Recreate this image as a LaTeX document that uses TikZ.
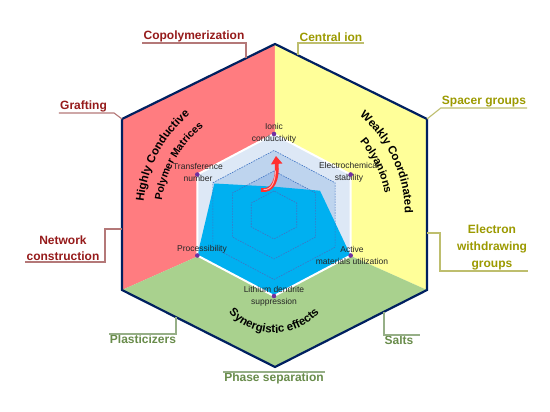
\documentclass[tikz,border=0pt]{standalone}
\usepackage{fontspec}
\setmainfont{Liberation Sans}
\usepackage{tikz}
\usetikzlibrary{arrows.meta,decorations.text}

\definecolor{redreg}{HTML}{FF7C80}
\definecolor{yelreg}{HTML}{FFFF99}
\definecolor{grnreg}{HTML}{A9D18E}
\definecolor{hexline}{HTML}{002060}
\definecolor{radbg}{HTML}{DDE8F6}
\definecolor{lvlout}{HTML}{BED4EE}
\definecolor{lvlin}{HTML}{A3C1E8}
\definecolor{datacol}{HTML}{00B0F0}
\definecolor{dashcol}{HTML}{3F74C4}
\definecolor{dotcol}{HTML}{7030A0}
\definecolor{arrowred}{HTML}{FF3030}
\definecolor{labred}{HTML}{961B1B}
\definecolor{labolv}{HTML}{9C9A00}
\definecolor{labgrn}{HTML}{698C4B}
\definecolor{lnred}{HTML}{B47878}
\definecolor{lnolv}{HTML}{BEBE6E}
\definecolor{lngrn}{HTML}{96AF87}

\newcommand{\arcbig}{\fontsize{11.5}{12}\selectfont\bfseries}
\newcommand{\arcsmall}{\fontsize{10.5}{11}\selectfont\bfseries}
\newcommand{\arcmid}{\fontsize{11}{11}\selectfont\bfseries}

\begin{document}
\begin{tikzpicture}[
    x=1pt,y=1pt,
    outlab/.style={font=\fontsize{12}{17}\selectfont\bfseries,align=center,inner sep=1pt},
    radlab/.style={font=\fontsize{8.5}{12}\selectfont,align=center,inner sep=0pt,text=black!85},
    conn/.style={line width=1.1pt},
    dot/.style={circle,fill=dotcol,inner sep=0pt,minimum size=4.6pt},
    level/.style={draw=dashcol,dash pattern=on 1.6pt off 1.1pt,line width=0.6pt},
    arctext/.style={decorate,decoration={text along path,text align=center,text={#1}}},
    uparrow/.style={draw=arrowred,line width=3.8pt,-{Triangle[width=11pt,length=8pt]}}
  ]
  \useasboundingbox[fill=white] (-274,-197) rectangle (276,215);

  %hexagon
  \coordinate (hT) at (1,171);
  \coordinate (hUR) at (153,96);
  \coordinate (hLR) at (153,-75);
  \coordinate (hB) at (1,-152);
  \coordinate (hLL) at (-152,-75);
  \coordinate (hUL) at (-152,96);
  \coordinate (m) at (1,-7);
  \fill[redreg] (hT) -- (hUL) -- (hLL) -- (m) -- cycle;
  \fill[yelreg] (hT) -- (hUR) -- (hLR) -- (m) -- cycle;
  \fill[grnreg] (hLL) -- (hB) -- (hLR) -- (m) -- cycle;
  \draw[hexline,line width=2.2pt] (hT) -- (hUR) -- (hLR) -- (hB) -- (hLL) -- (hUL) -- cycle;

  %radar
  \begin{scope}[x=1.093pt]
    \fill[radbg] (90:81) \foreach \a in {150,210,...,390} {-- (\a:81)} -- cycle;
    \fill[lvlout] (90:64.5) \foreach \a in {150,210,...,390} {-- (\a:64.5)} -- cycle;
    \fill[lvlin] (90:44) \foreach \a in {150,210,...,390} {-- (\a:44)} -- cycle;
    \fill[datacol] (90:28.3) -- (30:48.6) -- (-30:81) -- (-90:81) -- (210:81) -- (150:63) -- cycle;
    \foreach \r in {64.5,44,24}
      \draw[level] (90:\r) \foreach \a in {150,210,...,390} {-- (\a:\r)} -- cycle;
    \draw[white,line width=2pt] (90:81) \foreach \a in {150,210,...,390} {-- (\a:81)} -- cycle;
  \end{scope}

  %arrow
  \coordinate (arT) at (-13,25);
  \coordinate (arH) at (2,59);
  \draw[uparrow] (arT) .. controls (-1,23) and (4,36) .. (arH);
  \draw[white!60!arrowred,line width=1pt,line cap=round] (-10,25.5) .. controls (-3,25) and (1,32) .. (1.5,44);

  %radar labels
  \node[radlab] (ionic) at (0,82) {Ionic\\conductivity};
  \node[radlab] (elchem) at (75,43) {Electrochemical\\stability};
  \node[radlab] (active) at (78,-40.5) {Active\\materials utilization};
  \node[radlab] (lith) at (0,-81) {Lithium dendrite\\suppression};
  \node[radlab] (proc) at (-72,-34) {Processibility};
  \node[radlab] (trans) at (-76,43) {Transference\\number};

  \begin{scope}[x=1.093pt]
    \foreach \a [count=\i] in {90,30,-30,-90,-150,150}
      \node[dot] (d\i) at (\a:81) {};
  \end{scope}

  %section titles
  \path[arctext={|\arcbig|Highly Conductive}] (202:131) arc[start angle=202,end angle=102,radius=131];
  \path[arctext={|\arcsmall|Polymer Matrices}] (200.5:113) arc[start angle=200.5,end angle=100.5,radius=113];
  \path[arctext={|\arcbig|Weakly Coordinated}] (75:131) arc[start angle=75,end angle=-25,radius=131];
  \path[arctext={|\arcmid|Polyanions}] (75.7:113) arc[start angle=75.7,end angle=-24.3,radius=113];
  \path[shift={(0,-57)},arctext={|\arcbig|Synergistic effects}] (210:61) arc[start angle=210,end angle=330,radius=61];

  %outer labels
  \coordinate (ecopo) at (-28,156.8);
  \coordinate (ecent) at (24,159.7);
  \coordinate (eelec) at (153,-18);
  \coordinate (esalt) at (110,-96.8);
  \coordinate (eplas) at (-98,-102.2);
  \coordinate (enet) at (-152,-14);

  \node[outlab,labred,anchor=south] (copo) at (-80,172) {Copolymerization};
  \node[outlab,labred,anchor=south] (graf) at (-190.5,102) {Grafting};
  \node[outlab,labred,anchor=south,font=\fontsize{12}{16}\selectfont\bfseries] (netw) at (-211,-47) {Network\\construction};
  \node[outlab,labolv,anchor=south] (cent) at (57,172) {Central ion};
  \node[outlab,labolv,anchor=south] (spac) at (210,107) {Spacer groups};
  \node[outlab,labolv,anchor=south] (elec) at (218,-56) {Electron\\withdrawing\\groups};
  \node[outlab,labgrn,anchor=north] (salt) at (125,-120) {Salts};
  \node[outlab,labgrn,anchor=north] (phas) at (0,-157) {Phase separation};
  \node[outlab,labgrn,anchor=north] (plas) at (-131,-119) {Plasticizers};

  \draw[conn,lnred] (copo.south west) -| (ecopo);
  \draw[conn,lnred] (graf.south west) -- ([xshift=6pt]graf.south east) -- (hUL);
  \draw[conn,lnred] (enet) -- ++(-17,0) |- (netw.south west);
  \draw[conn,lnolv] (cent.south east) -| (ecent);
  \draw[conn,lnolv] (spac.south east) -- (spac.south west) -- (hUR);
  \draw[conn,lnolv] (eelec) -- ++(13,0) |- (elec.south east);
  \draw[conn,lngrn] (esalt) |- ([xshift=5pt]salt.north east);
  \draw[conn,lngrn] (phas.north west) -- (phas.north east);
  \draw[conn,lngrn] (eplas) |- (plas.north west);
\end{tikzpicture}
\end{document}
